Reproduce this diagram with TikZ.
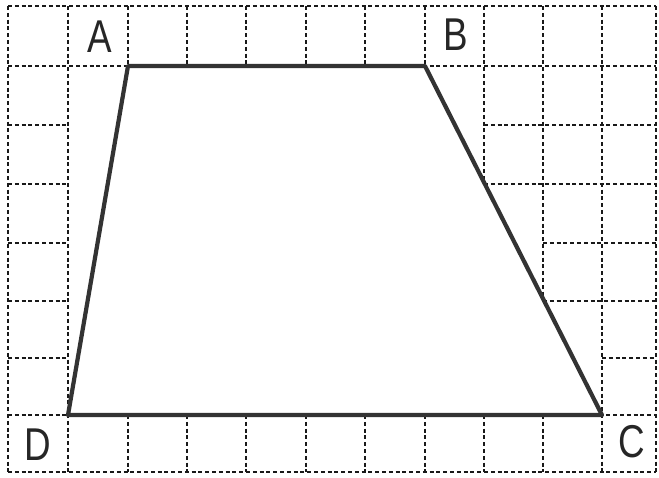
\documentclass[tikz,border=0pt]{standalone}
\usepackage{fontspec}
\setmainfont{Liberation Sans}[FakeStretch=0.8]
\begin{document}
\begin{tikzpicture}[x=1pt,y=-1pt,
  gridline/.style={draw=black!90, line width=2.4pt, dash pattern=on 4pt off 2.8pt},
  edge/.style={draw=black!80, line width=4.2pt, line join=round, line cap=round},
  lbl/.style={font=\fontsize{46}{46}\selectfont, text=black!85, inner sep=0pt, anchor=center}]
\useasboundingbox[fill=white] (0,0) rectangle (659,477);
% horizontal grid lines
\foreach \y in {6,66,415,472} \draw[gridline] (8,\y) -- (656,\y);
\foreach \y/\s in {125/484,184/484,243/543,301/543,358/602} {
  \draw[gridline] (8,\y) -- (68,\y);
  \draw[gridline] (\s,\y) -- (656,\y);
}
% vertical grid lines
\foreach \x in {8,68,602,656} \draw[gridline] (\x,6) -- (\x,472);
\foreach \x in {128,187,246,306,365,425} {
  \draw[gridline] (\x,6) -- (\x,66);
  \draw[gridline] (\x,415) -- (\x,472);
}
\foreach \x/\e in {484/184,543/301} {
  \draw[gridline] (\x,6) -- (\x,\e);
  \draw[gridline] (\x,415) -- (\x,472);
}
% trapezoid
\coordinate (A) at (128,66);
\coordinate (B) at (425,66);
\coordinate (C) at (602,415);
\coordinate (D) at (68,415);
\draw[edge] (A) -- (B) -- (C) -- (D) -- cycle;
% labels
\node[lbl] (lA) at (100,37) {A};
\node[lbl] (lB) at (456,35) {B};
\node[lbl] (lC) at (632,442) {C};
\node[lbl] (lD) at (38,445) {D};
\end{tikzpicture}
\end{document}
